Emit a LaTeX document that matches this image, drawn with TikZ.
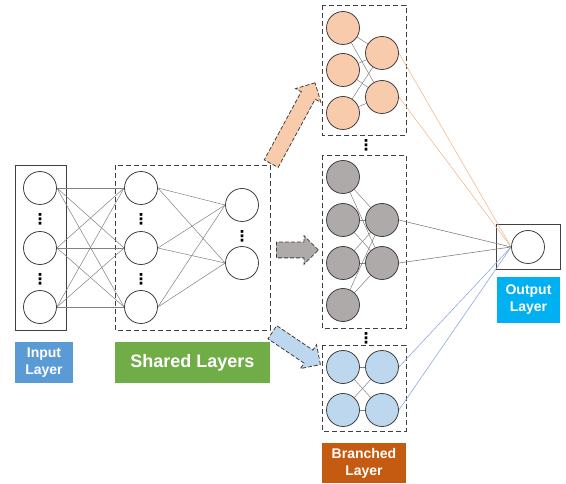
\documentclass[tikz,border=0pt]{standalone}
\usepackage{fontspec}
\setmainfont{Liberation Sans}
\newfontfamily\dejavu{DejaVu Sans}
\usetikzlibrary{shapes.arrows}
\definecolor{inblue}{HTML}{5B9BD5}
\definecolor{shgreen}{HTML}{70AD47}
\definecolor{brorange}{HTML}{C55A11}
\definecolor{outcyan}{HTML}{00B0F0}
\definecolor{peach}{HTML}{F8CBAD}
\definecolor{graynode}{HTML}{AEAAAA}
\definecolor{lightblue}{HTML}{BDD7EE}
\definecolor{linegray}{HTML}{808080}
\definecolor{lineorange}{HTML}{F4B98F}
\definecolor{lineblue}{HTML}{8FAADC}
\definecolor{edgec}{HTML}{404040}
\pgfdeclarelayer{bg}
\pgfsetlayers{bg,main}
\begin{document}
\begin{tikzpicture}[x=1pt,y=-1pt,
  neuron/.style={circle, draw=edgec, line width=0.8pt, minimum size=33pt, inner sep=0pt, fill=white},
  link/.style={draw=linegray, line width=0.5pt},
  dbox/.style={draw=edgec, dash pattern=on 5pt off 3pt, line width=0.9pt},
  sbox/.style={draw=edgec, line width=0.9pt},
  lab/.style={text=white, font=\bfseries\fontsize{14}{17}\selectfont, align=center, inner sep=0pt},
  dotsn/.style={inner sep=0pt, font=\dejavu\bfseries\fontsize{15}{15}\selectfont},
  blockarrow/.style={single arrow, draw=edgec, dash pattern=on 4pt off 2pt, line width=0.8pt,
    inner xsep=0pt, inner ysep=7.5pt, single arrow head extend=6.5pt, anchor=tail}
]
\useasboundingbox (0,0) rectangle (566,484);

% input layer
\node[neuron] (i1) at (40,188) {};
\node[neuron] (i2) at (40,248) {};
\node[neuron] (i3) at (40,307) {};
\node[dotsn] (di1) at (40,219) {⋮};
\node[dotsn] (di2) at (40,279) {⋮};

% shared layers
\node[neuron] (s1) at (141,188) {};
\node[neuron] (s2) at (141,248) {};
\node[neuron] (s3) at (141,307) {};
\node[neuron] (t1) at (242,205) {};
\node[neuron] (t2) at (242,263) {};
\node[dotsn] (ds1) at (141,219) {⋮};
\node[dotsn] (ds2) at (141,279) {⋮};
\node[dotsn] (dt1) at (242,236) {⋮};

% upper branch
\node[neuron, fill=peach] (a1) at (343,28) {};
\node[neuron, fill=peach] (a2) at (343,70) {};
\node[neuron, fill=peach] (a3) at (343,113) {};
\node[neuron, fill=peach] (b1) at (382,53) {};
\node[neuron, fill=peach] (b2) at (382,97) {};

% middle branch
\node[neuron, fill=graynode] (g1) at (343,177) {};
\node[neuron, fill=graynode] (g2) at (343,220) {};
\node[neuron, fill=graynode] (g3) at (343,263) {};
\node[neuron, fill=graynode] (g4) at (343,305) {};
\node[neuron, fill=graynode] (h1) at (382,220) {};
\node[neuron, fill=graynode] (h2) at (382,263) {};

% lower branch
\node[neuron, fill=lightblue] (u1) at (343,367) {};
\node[neuron, fill=lightblue] (u2) at (343,410) {};
\node[neuron, fill=lightblue] (v1) at (382,367) {};
\node[neuron, fill=lightblue] (v2) at (382,410) {};

\node[dotsn] (db1) at (366,145) {⋮};
\node[dotsn] (db2) at (366,338) {⋮};

% output
\node[neuron] (o) at (528,247) {};

\begin{pgfonlayer}{bg}
  \draw[sbox] (15,165) rectangle (66,330);
  \draw[dbox] (115,165) rectangle (270,330);
  \draw[dbox] (322,5) rectangle (406,135);
  \draw[dbox] (322,155) rectangle (406,328);
  \draw[dbox] (322,345) rectangle (406,431);
  \draw[sbox] (496,224) rectangle (560,269);
  \foreach \p in {i1,i2,i3}{\foreach \q in {s1,s2,s3}{\draw[link] (\p.east) -- (\q.west);}}
  \foreach \p in {s1,s2,s3}{\foreach \q in {t1,t2}{\draw[link] (\p.east) -- (\q.west);}}
  \foreach \p in {a1,a2,a3}{\foreach \q in {b1,b2}{\draw[link] (\p) -- (\q);}}
  \foreach \p in {g1,g2,g3,g4}{\foreach \q in {h1,h2}{\draw[link] (\p) -- (\q);}}
  \foreach \p in {u1,u2}{\foreach \q in {v1,v2}{\draw[link] (\p) -- (\q);}}
  \foreach \p in {b1,b2}{\draw[draw=lineorange, line width=0.6pt] (\p.east) -- (o.west);}
  \foreach \p in {h1,h2}{\draw[link, line width=0.6pt] (\p.east) -- (o.west);}
  \foreach \p in {v1,v2}{\draw[draw=lineblue, line width=0.6pt] (\p.east) -- (o.west);}
\end{pgfonlayer}

% block arrows
\node[blockarrow, fill=peach, minimum height=92pt, rotate=61.5] (ar1) at (271,164) {};
\node[blockarrow, fill=graynode, minimum height=42pt] (ar2) at (276,250) {};
\node[blockarrow, fill=lightblue, minimum height=58pt, rotate=-34] (ar3) at (272,332) {};

% labels
\node[lab, fill=inblue, minimum width=58pt, minimum height=41pt] (lin) at (44,362.5) {Input\\Layer};
\node[lab, fill=shgreen, minimum width=155pt, minimum height=41pt, font=\bfseries\fontsize{18}{20}\selectfont] (lsh) at (192.5,362.5) {Shared Layers};
\node[lab, fill=brorange, minimum width=84pt, minimum height=40pt] (lbr) at (364,463) {Branched\\Layer};
\node[lab, fill=outcyan, minimum width=63pt, minimum height=46pt] (lout) at (528.5,300) {Output\\Layer};
\end{tikzpicture}
\end{document}
